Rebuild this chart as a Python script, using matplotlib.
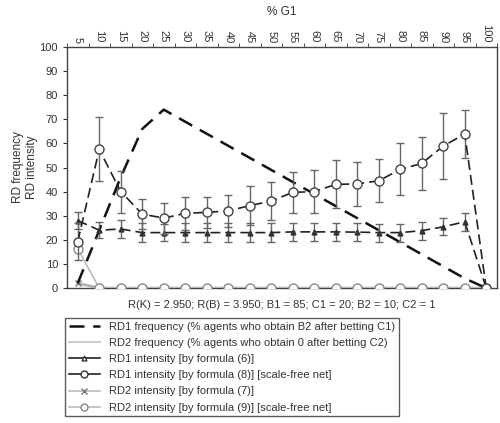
import matplotlib
matplotlib.use("Agg")
import matplotlib.pyplot as plt
from matplotlib.lines import Line2D
import numpy as np

plt.rcParams['font.family'] = ['Liberation Sans', 'DejaVu Sans']

# % G1 categories
g1 = [5, 10, 15, 20, 25, 30, 35, 40, 45, 50, 55, 60, 65, 70, 75, 80, 85, 90, 95, 100]

rd1_freq = [2, 24, 46, 66, 74, 69, 64, 59, 54, 49, 44, 39, 34, 29, 24, 19, 14, 9, 4, 0]
rd2_freq = [2, 0, 0, 0, 0, 0, 0, 0, 0, 0, 0, 0, 0, 0, 0, 0, 0, 0, 0, 0]

rd1_int6 = [28, 24, 24.5, 23, 23, 23, 23, 23, 23, 23, 23.3, 23.3, 23.3, 23.2, 23, 23, 23.8, 25.4, 27.5, 0]
rd1_int6_err = [3.5, 3.2, 3.8, 3.8, 3.5, 3.8, 3.8, 3.8, 3.8, 3.8, 3.8, 3.8, 3.8, 3.8, 3.7, 3.7, 3.8, 3.5, 3.8, 0]

rd1_int8 = [19.3, 57.5, 40, 30.7, 29, 31, 31.4, 32, 34.2, 36.1, 39.7, 40, 43, 43.2, 44.5, 49.2, 51.7, 58.9, 63.9, 0]
rd1_int8_err = [7.5, 13.3, 8.7, 6.2, 6.4, 6.9, 6.5, 6.8, 8.2, 8, 8.6, 9, 10, 9.2, 9, 10.8, 11, 13.8, 9.8, 0]

rd2_int7 = [2, 0, 0, 0, 0, 0, 0, 0, 0, 0, 0, 0, 0, 0, 0, 0, 0, 0, 0, 0]
rd2_int9 = [16.3, 0, 0, 0, 0, 0, 0, 0, 0, 0, 0, 0, 0, 0, 0, 0, 0, 0, 0, 0]

params_text = "R(K) = 2.950; R(B) = 3.950; B1 = 85; C1 = 20; B2 = 10; C2 = 1"

fig = plt.figure(figsize=(5, 4.23), dpi=100)
ax = fig.add_axes([0.134, 0.319, 0.86, 0.570])
x = np.arange(len(g1))

# gray RD2 series first (underneath)
ax.plot(x, rd2_freq, color='#cccccc', lw=2.2, zorder=2)
ax.plot(x, rd2_int7, color='#aaaaaa', lw=1.2, marker='x', ms=4, mec='#777777', zorder=3)
ax.plot(x, rd2_int9, color='#bbbbbb', lw=1.2, marker='o', ms=6.5, mfc='white',
        mec='#888888', mew=1.0, zorder=4)

# RD1 frequency
ax.plot(x, rd1_freq, color='#111111', lw=1.8, dashes=(6, 3.5), zorder=5)

# RD1 intensity formula (6)
ax.errorbar(x, rd1_int6, yerr=rd1_int6_err, color='#222222', lw=1.2, dashes=(6, 3),
            marker='^', ms=3.5, mfc='#333333', mec='#333333',
            ecolor='#666666', elinewidth=1.0, capsize=3, capthick=1.0, zorder=6)

# RD1 intensity formula (8)
ax.errorbar(x, rd1_int8, yerr=rd1_int8_err, color='#222222', lw=1.2, dashes=(6, 3),
            marker='o', ms=6.5, mfc='white', mec='#444444', mew=1.0,
            ecolor='#666666', elinewidth=1.0, capsize=3, capthick=1.0, zorder=7)

ax.set_xlim(-0.5, len(g1) - 0.5)
ax.set_ylim(0, 100)
ax.set_yticks(range(0, 101, 10))
ax.tick_params(axis='y', labelsize=8, length=3, direction='out', colors='#333333')

ax.xaxis.tick_top()
ax.xaxis.set_label_position('top')
ax.set_xticks(x)
ax.set_xticklabels([str(v) for v in g1], rotation=270, fontsize=8, color='#333333')
ax.set_xticks(np.arange(-0.5, len(g1), 1.0), minor=True)
ax.tick_params(axis='x', which='major', length=0, pad=3)
ax.tick_params(axis='x', which='minor', length=3, direction='out', colors='#333333')
ax.set_xlabel("% G1", fontsize=8.5, labelpad=7, color='#333333')
ax.set_ylabel("RD frequency\nRD intensity", fontsize=8.5, color='#333333', labelpad=1)

for s in ax.spines.values():
    s.set_color('#444444')
    s.set_linewidth(1.0)

fig.text(0.564, 0.278, params_text, ha='center', va='center', fontsize=8, color='#333333')

handles = [
    Line2D([], [], color='#111111', lw=1.8, dashes=(6, 3.5)),
    Line2D([], [], color='#cccccc', lw=1.5),
    Line2D([], [], color='#222222', lw=1.2, marker='^', ms=3.5, mfc='white', mec='#333333'),
    Line2D([], [], color='#222222', lw=1.2, marker='o', ms=5, mfc='white', mec='#333333'),
    Line2D([], [], color='#bbbbbb', lw=1.2, marker='x', ms=4, mec='#777777'),
    Line2D([], [], color='#bbbbbb', lw=1.2, marker='o', ms=5, mfc='white', mec='#888888'),
]
labels = [
    "RD1 frequency (% agents who obtain B2 after betting C1)",
    "RD2 frequency (% agents who obtain 0 after betting C2)",
    "RD1 intensity [by formula (6)]",
    "RD1 intensity [by formula (8)] [scale-free net]",
    "RD2 intensity [by formula (7)]",
    "RD2 intensity [by formula (9)] [scale-free net]",
]
leg = fig.legend(handles, labels, loc='upper left', bbox_to_anchor=(0.13, 0.248),
                 fontsize=8, frameon=True, fancybox=False, handlelength=2.8,
                 borderpad=0.35, labelspacing=0.55, handletextpad=0.8,
                 labelcolor='#333333', borderaxespad=0)
leg.get_frame().set_edgecolor('#333333')
leg.get_frame().set_linewidth(1.0)

fig.savefig("out.png", dpi=100)
